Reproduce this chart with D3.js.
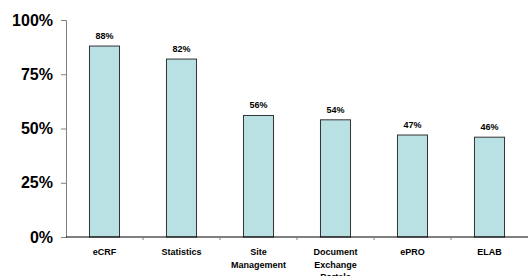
<!DOCTYPE html>
<html>
<head>
<meta charset="utf-8">
<script src="https://cdn.jsdelivr.net/npm/d3@7"></script>
<style>
  body { margin: 0; background: #fff; }
  text { font-family: "Liberation Sans", Arial, sans-serif; font-weight: bold; fill: #000; }
</style>
</head>
<body>
<svg width="529" height="276"></svg>
<script>
var categories = ["eCRF", "Statistics", "Site\nManagement", "Document\nExchange\nPortals", "ePRO", "ELAB"];
var values = [88, 82, 56, 54, 47, 46];
var yTicks = [0, 25, 50, 75, 100];

var svg = d3.select("svg");

var x = d3.scaleBand()
  .domain(categories)
  .range([66, 528])
  .paddingInner(0.61)
  .paddingOuter(0.305);

var y = d3.scaleLinear()
  .domain([0, 100])
  .range([237, 20]);

// y axis
var yAxis = svg.append("g")
  .attr("transform", "translate(66,0)")
  .call(d3.axisLeft(y).tickValues(yTicks).tickSize(5).tickFormat(function (d) { return d + "%"; }));
yAxis.selectAll("path, line").attr("stroke", "#808080");
yAxis.selectAll("text")
  .attr("x", -13)
  .style("font-size", "16px")
  .style("font-family", "Liberation Sans, Arial, sans-serif")
  .style("font-weight", "bold");

// bars
svg.selectAll("rect.bar")
  .data(values)
  .enter().append("rect")
  .attr("class", "bar")
  .attr("x", function (d, i) { return x(categories[i]); })
  .attr("y", function (d) { return y(d); })
  .attr("width", x.bandwidth())
  .attr("height", function (d) { return y(0) - y(d); })
  .style("fill", "#b9e0e3")
  .style("stroke", "#333")
  .style("stroke-width", "1px");

// value labels
svg.selectAll("text.val")
  .data(values)
  .enter().append("text")
  .attr("class", "val")
  .attr("x", function (d, i) { return x(categories[i]) + x.bandwidth() / 2; })
  .attr("y", function (d) { return y(d) - 7; })
  .attr("text-anchor", "middle")
  .style("font-size", "9px")
  .text(function (d) { return d + "%"; });

// x axis line and ticks between categories
svg.append("line")
  .attr("x1", 66).attr("x2", 528)
  .attr("y1", y(0)).attr("y2", y(0))
  .style("stroke", "#000").style("stroke-width", "1px");

var gap = x.step() - x.bandwidth();
svg.selectAll("line.xtick")
  .data(categories.slice(1))
  .enter().append("line")
  .attr("class", "xtick")
  .attr("x1", function (d) { return x(d) - gap / 2; })
  .attr("x2", function (d) { return x(d) - gap / 2; })
  .attr("y1", y(0)).attr("y2", y(0) + 3)
  .style("stroke", "#808080");

// category labels
var cat = svg.selectAll("text.cat")
  .data(categories)
  .enter().append("text")
  .attr("class", "cat")
  .attr("text-anchor", "middle")
  .attr("x", function (d) { return x(d) + x.bandwidth() / 2; })
  .attr("y", 255)
  .style("font-size", "9px");

cat.selectAll("tspan")
  .data(function (d) { return d.split("\n"); })
  .enter().append("tspan")
  .attr("x", function () { return d3.select(this.parentNode).attr("x"); })
  .attr("dy", function (d, i) { return i === 0 ? 0 : 12.5; })
  .text(function (d) { return d; });
</script>
</body>
</html>
